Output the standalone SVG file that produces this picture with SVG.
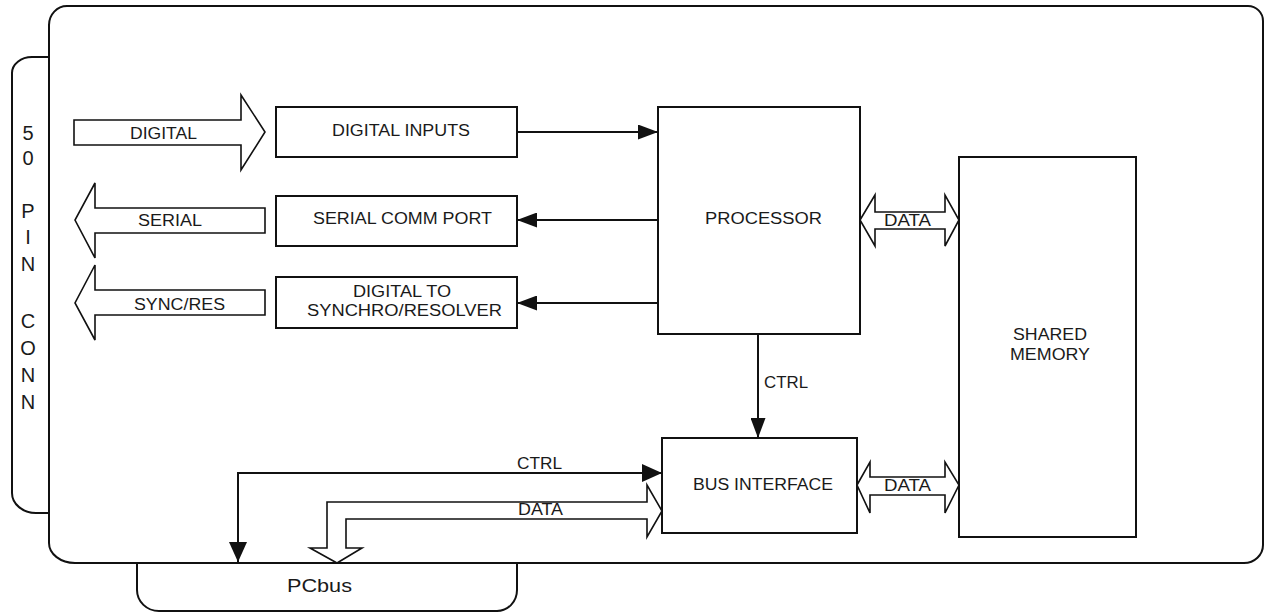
<svg xmlns="http://www.w3.org/2000/svg" width="1264" height="613" viewBox="0 0 1264 613">
<style>
.ln{fill:none;stroke:#111;stroke-width:2}
.bx{fill:#fff;stroke:#111;stroke-width:2}
.fa{fill:#fff;stroke:#111;stroke-width:1.6;stroke-linejoin:miter}
.t{font-family:"Liberation Sans",Arial,sans-serif;font-size:16px;fill:#1a1a1a}
.v{font-family:"Liberation Sans",Arial,sans-serif;font-size:20px;fill:#1a1a1a;text-anchor:middle}
</style>
<defs>
<marker id="ah" viewBox="0 0 20 15" refX="20" refY="7.5" markerWidth="20" markerHeight="15" markerUnits="userSpaceOnUse" orient="auto">
<path d="M0,0 L20,7.5 L0,15 Z" fill="#111"/>
</marker>
<marker id="ah2" viewBox="0 0 20 18" refX="20" refY="9" markerWidth="20" markerHeight="18" markerUnits="userSpaceOnUse" orient="auto-start-reverse">
<path d="M0,0 L20,9 L0,18 Z" fill="#111"/>
</marker>
</defs>
<rect width="1264" height="613" fill="#fff"/>
<g id="connector50">
<path class="bx" d="M49,57 H32 A20,16 0 0 0 12,73 V493 A24,20 0 0 0 36,513 H49"/>
<text class="v" x="28" y="140">5</text>
<text class="v" x="28" y="165">0</text>
<text class="v" x="28" y="218">P</text>
<text class="v" x="28" y="244">I</text>
<text class="v" x="28" y="271">N</text>
<text class="v" x="28" y="328">C</text>
<text class="v" x="28" y="355">O</text>
<text class="v" x="28" y="382">N</text>
<text class="v" x="28" y="409">N</text>
</g>
<g id="pcbus">
<path class="bx" d="M137,563 V590 A22,21 0 0 0 159,611 H497 A20,21 0 0 0 517,590 V563"/>
<text class="t" x="287" y="592" textLength="65" lengthAdjust="spacingAndGlyphs" style="font-size:18px">PCbus</text>
</g>
<g id="board">
<path class="ln" d="M67,6 H1248 A15,15 0 0 1 1263,21 V545 A19,18 0 0 1 1244,563 H75 A26,20 0 0 1 49,543 V25 A18,19 0 0 1 67,6 Z" fill="#fff"/>
</g>
<g id="io-arrows">
<path class="fa" d="M74,120 H241 V95 L265,132 L241,170 V145 H74 Z"/>
<text class="t" x="130" y="139" textLength="67" lengthAdjust="spacingAndGlyphs">DIGITAL</text>
<path class="fa" d="M265,208 H95 V183 L75,220 L95,258 V233 H265 Z"/>
<text class="t" x="138" y="226" textLength="64" lengthAdjust="spacingAndGlyphs">SERIAL</text>
<path class="fa" d="M265,290 H95 V265 L75,303 L95,340 V315 H265 Z"/>
<text class="t" x="134" y="310" textLength="91" lengthAdjust="spacingAndGlyphs">SYNC/RES</text>
</g>
<g id="digital-inputs">
<rect class="bx" x="276" y="107" width="241" height="50"/>
<text class="t" x="332" y="136" textLength="138" lengthAdjust="spacingAndGlyphs">DIGITAL INPUTS</text>
</g>
<g id="serial-comm">
<rect class="bx" x="276" y="196" width="241" height="50"/>
<text class="t" x="313" y="224" textLength="179" lengthAdjust="spacingAndGlyphs">SERIAL COMM PORT</text>
</g>
<g id="d2s">
<rect class="bx" x="276" y="277" width="241" height="51"/>
<text class="t" x="353" y="297" textLength="98" lengthAdjust="spacingAndGlyphs">DIGITAL TO</text>
<text class="t" x="307" y="316" textLength="195" lengthAdjust="spacingAndGlyphs">SYNCHRO/RESOLVER</text>
</g>
<g id="processor">
<rect class="bx" x="658" y="107" width="202" height="227"/>
<text class="t" x="705" y="224" textLength="117" lengthAdjust="spacingAndGlyphs">PROCESSOR</text>
</g>
<g id="shared-memory">
<rect class="bx" x="959" y="157" width="177" height="380"/>
<text class="t" x="1013" y="340" textLength="74" lengthAdjust="spacingAndGlyphs" style="font-size:17px">SHARED</text>
<text class="t" x="1010" y="360" textLength="80" lengthAdjust="spacingAndGlyphs" style="font-size:17px">MEMORY</text>
</g>
<g id="bus-interface">
<rect class="bx" x="662" y="438" width="195" height="95"/>
<text class="t" x="693" y="490" textLength="140" lengthAdjust="spacingAndGlyphs">BUS INTERFACE</text>
</g>
<g id="connectors">
<line class="ln" x1="517" y1="132" x2="658" y2="132" marker-end="url(#ah)"/>
<line class="ln" x1="658" y1="220" x2="517" y2="220" marker-end="url(#ah)"/>
<line class="ln" x1="658" y1="303" x2="517" y2="303" marker-end="url(#ah)"/>
<line class="ln" x1="758" y1="334" x2="758" y2="438" marker-end="url(#ah)"/>
<text class="t" x="764" y="388" textLength="44" lengthAdjust="spacingAndGlyphs">CTRL</text>
<path class="fa" d="M860,220 L875,195 V212 H945 V195 L959,220 L945,246 V229 H875 V246 Z"/>
<text class="t" x="884" y="226" textLength="47" lengthAdjust="spacingAndGlyphs">DATA</text>
<path class="fa" d="M857,485 L870,462 V477 H945 V462 L959,485 L945,513 V495 H870 V513 Z"/>
<text class="t" x="884" y="491" textLength="47" lengthAdjust="spacingAndGlyphs">DATA</text>
<path class="ln" d="M662,473 H238 V562" marker-start="url(#ah2)" marker-end="url(#ah2)"/>
<text class="t" x="517" y="469" textLength="45" lengthAdjust="spacingAndGlyphs">CTRL</text>
<path class="fa" d="M327,502 H647 V485 L662,511 L647,537 V519 H346 V548 H362 L337,563 L310,548 H327 Z"/>
<text class="t" x="518" y="515" textLength="45" lengthAdjust="spacingAndGlyphs">DATA</text>
</g>
</svg>
